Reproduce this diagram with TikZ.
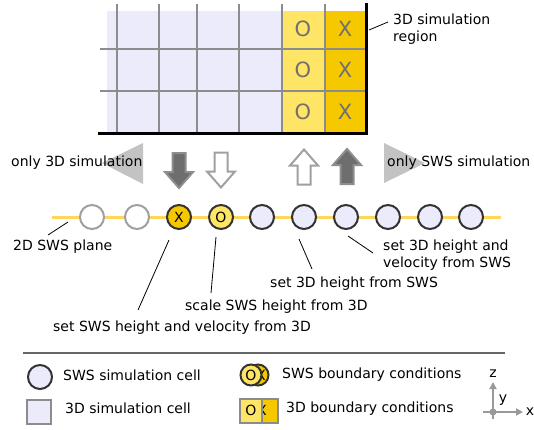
\documentclass[tikz,border=0pt]{standalone}
\usepackage{fontspec}
\setmainfont{DejaVu Sans}
\usetikzlibrary{arrows.meta}
\definecolor{lav}{HTML}{EBEBFB}
\definecolor{ylight}{HTML}{FFE566}
\definecolor{ydark}{HTML}{F5C800}
\definecolor{gridgray}{HTML}{8C8C8C}
\definecolor{wedgegray}{HTML}{C3C3C3}
\definecolor{darkarrow}{HTML}{6E6E6E}
\definecolor{arrowedge}{HTML}{8E8E8E}
\definecolor{hollowedge}{HTML}{A0A0A0}
\definecolor{planecol}{HTML}{FFD55C}
\definecolor{ringdark}{HTML}{333333}
\definecolor{lettergray}{HTML}{707070}
\definecolor{axisgray}{HTML}{999999}
\definecolor{sepgray}{HTML}{666666}
\tikzset{
  blockarrow/.pic={\path[pic actions] (-6.5,-17.5) -- (6.5,-17.5) -- (6.5,1.5) -- (14,1.5) -- (0,17.5) -- (-14,1.5) -- (-6.5,1.5) -- cycle;},
}
\begin{document}
\begin{tikzpicture}[x=1pt,y=-1pt,
  every node/.style={inner sep=0pt, font=\fontsize{14}{17.5}\selectfont},
  lbl/.style={anchor=west, align=left},
  gridline/.style={draw=gridgray, line width=2},
  borderline/.style={draw=black, line width=3},
  cellletter/.style={text=lettergray, font=\fontsize{21}{21}\selectfont},
  darkblock/.style={fill=darkarrow, draw=arrowedge, line width=2},
  hollowblock/.style={fill=white, draw=hollowedge, line width=2},
  swsring/.style={circle, minimum size=24pt, line width=2pt, draw=ringdark},
  emptyring/.style={circle, minimum size=24pt, line width=2pt, draw=hollowedge, fill=white},
  swscell/.style={swsring, fill=lav},
  leader/.style={draw=black, line width=0.8pt},
  axisline/.style={draw=axisgray, line width=2pt},
  legbox/.style={rectangle, draw=gridgray, line width=2pt, minimum height=24pt},
]
\useasboundingbox (0,0) rectangle (534,429);

% 3D region
\fill[lav] (107,11) rectangle (282,133);
\fill[ylight] (282,11) rectangle (325,133);
\fill[ydark] (325,11) rectangle (366,133);
\foreach \x in {117,159,197,239,282,325} \draw[gridline] (\x,4) -- (\x,133);
\foreach \y in {49,91} \draw[gridline] (100,\y) -- (366,\y);
\draw[borderline] (98,133) -- (366,133);
\draw[borderline] (366,134.5) -- (366,3);
\foreach \r/\y in {1/29,2/70,3/112} {
  \node[cellletter] (go\r) at (303,\y) {O};
  \node[cellletter] (gx\r) at (345,\y) {X};
}
\node[lbl] (region) at (393,29) {3D simulation\\region};
\coordinate (regA) at (369,30);
\coordinate (regB) at (388,22);
\draw[leader] (regA) -- (regB);

% wedges
\fill[wedgegray] (102,163) -- (143,143) -- (143,184) -- cycle;
\fill[wedgegray] (384,143) -- (425,163) -- (384,183) -- cycle;
\node[lbl] (only3d) at (11,163) {only 3D simulation};
\node[lbl] (onlysws) at (387,163) {only SWS simulation};

% block arrows
\pic[darkblock] at (179,170.5) {blockarrow};
\pic[hollowblock] at (221,170) {blockarrow};
\pic[hollowblock, rotate=180] at (304,167) {blockarrow};
\pic[darkblock, rotate=180] at (347,166.5) {blockarrow};

% SWS plane
\coordinate (pl) at (52,217);
\coordinate (pr) at (501,217);
\draw[draw=planecol, line width=3pt] (pl) -- (pr);
\node[emptyring] (c1) at (92,217) {};
\node[emptyring] (c2) at (137,217) {};
\node[swsring, fill=ydark] (c3) at (179,217) {X};
\node[swsring, fill=ylight] (c4) at (221,217) {O};
\node[swscell] (c5) at (262,217) {};
\node[swscell] (c6) at (304,217) {};
\node[swscell] (c7) at (346,217) {};
\node[swscell] (c8) at (388,217) {};
\node[swscell] (c9) at (430,217) {};
\node[swscell] (c10) at (471,217) {};

% labels
\node[lbl] (plane) at (13,247) {2D SWS plane};
\coordinate (planeA) at (48,235);
\coordinate (planeB) at (68,222);
\draw[leader] (planeA) -- (planeB);

\node[lbl] (setsws) at (53,328) {set SWS height and velocity from 3D};
\coordinate (setswsA) at (138,310);
\coordinate (setswsB) at (169,240);
\draw[leader] (setswsA) -- (setswsB);

\node[lbl] (scale) at (185,307) {scale SWS height from 3D};
\coordinate (scaleA) at (211,293);
\coordinate (scaleB) at (216,237);
\draw[leader] (scaleA) -- (scaleB);

\node[lbl] (set3dh) at (270,284) {set 3D height from SWS};
\coordinate (set3dhA) at (312,269);
\coordinate (set3dhB) at (299,239);
\draw[leader] (set3dhA) -- (set3dhB);

\node[lbl] (set3dhv) at (383,255) {set 3D height and\\velocity from SWS};
\coordinate (set3dhvA) at (373,253);
\coordinate (set3dhvB) at (348,236);
\draw[leader] (set3dhvA) -- (set3dhvB);

% legend
\coordinate (sepL) at (23,353);
\coordinate (sepR) at (505,353);
\draw[draw=sepgray, line width=1.3pt] (sepL) -- (sepR);

\node[swscell] (legc) at (40,377) {};
\node[lbl] (legctext) at (63,375) {SWS simulation cell};
\node[rectangle, fill=lav, draw=gridgray, line width=2.5pt, minimum size=24pt] (legs) at (39,412) {};
\node[lbl] (legstext) at (65,408) {3D simulation cell};

\node[swsring, fill=ydark, minimum size=21pt] (legbx) at (258,375) {};
\node (legbxl) at (261,375) {X};
\node[swsring, fill=ylight, minimum size=21pt] (legbo) at (251,375) {O};
\node[lbl] (legbtext) at (282,375) {SWS boundary conditions};

\node[legbox, fill=ydark, minimum width=24pt] (legqx) at (266,410.5) {};
\node (legqxl) at (262,410.5) {X};
\node[legbox, fill=ylight, minimum width=22pt] (legqo) at (251,410.5) {O};
\node[lbl] (legqtext) at (286,409) {3D boundary conditions};

% axes
\coordinate (ax0) at (493,412);
\coordinate (axzb) at (493,419);
\coordinate (axz) at (493,382);
\coordinate (axxb) at (483,412);
\coordinate (axx) at (523,412);
\draw[axisline, -{Triangle[length=7pt,width=7pt]}] (axzb) -- (axz);
\draw[axisline, -{Triangle[length=7pt,width=7pt]}] (axxb) -- (axx);
\fill[axisgray] (ax0) circle (3.5);
\node (zl) at (493,374) {z};
\node (yl) at (503,400) {y};
\node (xl) at (530,412) {x};
\end{tikzpicture}
\end{document}
